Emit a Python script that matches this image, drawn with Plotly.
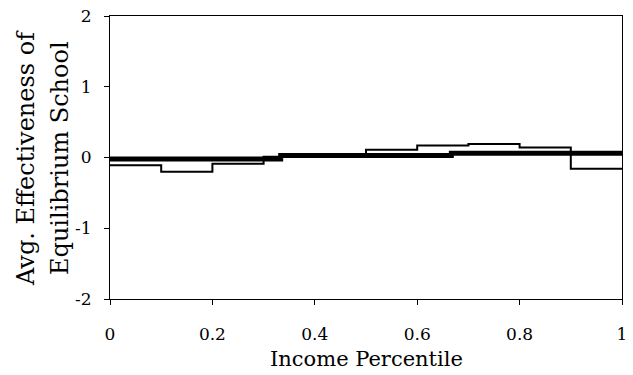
import plotly.graph_objects as go

# Data
decile_edges = [0.0, 0.1, 0.2, 0.3, 0.4, 0.5, 0.6, 0.7, 0.8, 0.9, 1.0]
decile_values = [-0.11, -0.20, -0.09, 0.01, 0.05, 0.11, 0.17, 0.19, 0.14, -0.16]
tercile_edges = [0.0, 1/3, 2/3, 1.0]
tercile_values = [-0.02, 0.03, 0.06]
x_ticks = [0, 0.2, 0.4, 0.6, 0.8, 1]
x_tick_labels = ["0", "0.2", "0.4", "0.6", "0.8", "1"]
y_ticks = [-2, -1, 0, 1, 2]
y_tick_labels = ["-2", "-1", "0", "1", "2"]
x_title = "Income Percentile"
y_title_lines = ["Avg. Effectiveness of", "Equilibrium School"]

FONT = "DejaVu Serif"

L, R, T, B = 110, 11, 16, 76
W, H = 633, 375
pw = W - L - R
ph = H - T - B

fig = go.Figure()
fig.add_trace(go.Scatter(
    x=tercile_edges, y=tercile_values + [tercile_values[-1]],
    mode="lines", line=dict(color="black", width=5, shape="hv"),
    showlegend=False, hoverinfo="skip"))
fig.add_trace(go.Scatter(
    x=decile_edges, y=decile_values + [decile_values[-1]],
    mode="lines", line=dict(color="black", width=2, shape="hv"),
    showlegend=False, hoverinfo="skip"))

annotations = [
    dict(text=x_title, xref="paper", x=(366 - L) / pw,
         yref="paper", y=-(359 - (H - B)) / ph, xanchor="center", yanchor="middle",
         showarrow=False, font=dict(family=FONT, size=21)),
]
for line, px in zip(y_title_lines, [26, 60]):
    annotations.append(dict(
        text=line, textangle=-90,
        xref="paper", x=-(L - px) / pw, xanchor="center",
        yref="paper", y=((H - B) - 158) / ph, yanchor="middle",
        showarrow=False, font=dict(family=FONT, size=24)))

fig.update_layout(
    width=W, height=H,
    margin=dict(l=L, r=R, t=T, b=B, autoexpand=False),
    paper_bgcolor="white", plot_bgcolor="white",
    font=dict(family=FONT, color="black", size=17),
    xaxis=dict(range=[0, 1], tickvals=x_ticks, ticktext=x_tick_labels,
               showgrid=False, zeroline=False, showline=True, linecolor="black",
               linewidth=1, mirror=True, ticks="outside", ticklen=5,
               tickcolor="black", ticklabelstandoff=15, automargin=False,
               tickfont=dict(family=FONT, size=17)),
    yaxis=dict(range=[-2, 2], tickvals=y_ticks, ticktext=y_tick_labels,
               showgrid=False, zeroline=False, showline=True, linecolor="black",
               linewidth=1, mirror=True, ticks="outside", ticklen=5,
               tickcolor="black", ticklabelstandoff=9, automargin=False,
               tickfont=dict(family=FONT, size=17)),
    annotations=annotations,
)
fig.write_html("out.html", config={"displayModeBar": False},
               post_script="document.body.style.margin='0';")
